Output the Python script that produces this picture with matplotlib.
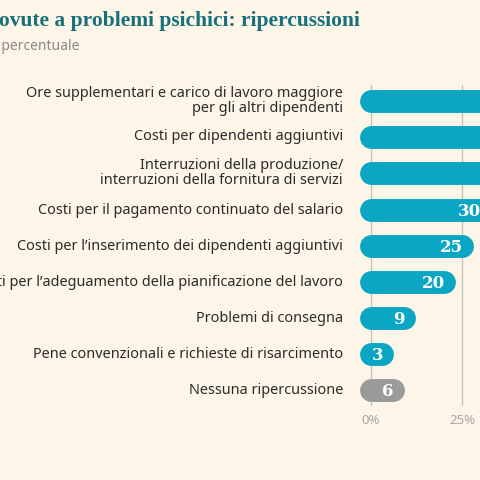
import matplotlib.pyplot as plt

categorie = [
    "Ore supplementari e carico di lavoro maggiore\nper gli altri dipendenti",
    "Costi per dipendenti aggiuntivi",
    "Interruzioni della produzione/\ninterruzioni della fornitura di servizi",
    "Costi per il pagamento continuato del salario",
    "Costi per l\u2019inserimento dei dipendenti aggiuntivi",
    "Costi per l\u2019adeguamento della pianificazione del lavoro",
    "Problemi di consegna",
    "Pene convenzionali e richieste di risarcimento",
    "Nessuna ripercussione",
]
valori = [48, 42, 40, 30, 25, 20, 9, 3, 6]
colori = ["#0aa6c4"] * 8 + ["#9a9a9a"]
tick_val = [0, 25]
tick_lab = ["0%", "25%"]

bg = "#fdf5e7"
fig = plt.figure(figsize=(4.8, 4.8), dpi=100, facecolor=bg)
ax = fig.add_axes([0, 0, 1, 1])
ax.set_facecolor(bg)
# 1 punto percentuale ~ 3.64 px, lo 0% a x=371 px
ax.set_xlim(-371 / 3.64, 109 / 3.64)
ax.set_ylim(480, 0)
ax.axis("off")

righe = [101, 137, 173, 210, 246, 282, 318, 354, 390]

for t, tl in zip(tick_val, tick_lab):
    ax.plot([t, t], [85, 405], color="#c2c0b8", lw=0.9, zorder=1)
    ax.text(t, 421, tl, ha="center", va="center",
            fontsize=9.5, color="#a8a8a8", family="Noto Sans")

for y, v, c, lab in zip(righe, valori, colori, categorie):
    ax.plot([0, v], [y, y], color=c, lw=16.5, solid_capstyle="round", zorder=2)
    ax.text(v + 0.3, y + 1, str(v), ha="right", va="center", color="white",
            fontsize=12, fontweight="bold", family="DejaVu Serif", zorder=3)
    ax.text(-7.7, y, lab, ha="right", va="center", fontsize=10.4,
            color="#2b2b2b", family="Noto Sans", linespacing=1.0)

ax.text(-3.1, 21, "Assenze dovute a problemi psichici: ripercussioni",
        ha="right", va="center", fontsize=15.5, fontweight="bold",
        color="#17707a", family="Liberation Serif")
ax.text(-80.2, 47, "Quota percentuale", ha="right", va="center",
        fontsize=10, color="#8a8a8a", family="Noto Sans")

fig.savefig("out.png", dpi=100, facecolor=bg)
